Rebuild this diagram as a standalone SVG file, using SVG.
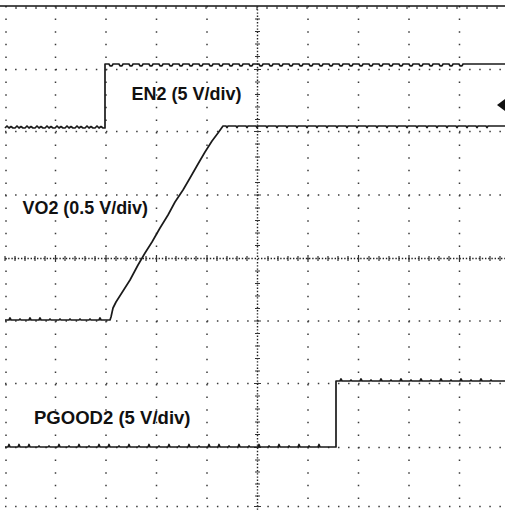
<svg xmlns="http://www.w3.org/2000/svg" width="505" height="510" viewBox="0 0 505 510">
<style>
.gh{stroke:#3a3a3a;stroke-width:1.5;stroke-dasharray:1.5 8.59;fill:none}
.gv{stroke:#3a3a3a;stroke-width:1.5;stroke-dasharray:1.5 11.1;fill:none}
.cl{stroke:#222;stroke-width:1.4;stroke-dasharray:1.4 1.8;fill:none}
.tk{stroke:#333;stroke-width:1.2;fill:none}
.tr{stroke:#1a1a1a;stroke-width:1.7;fill:none;stroke-linejoin:round}
.lb{font-family:"Liberation Sans",Arial,sans-serif;font-weight:bold;font-size:17.8px;fill:#111}
</style>
<rect width="505" height="510" fill="#fff"/>
<g id="grid">
<path class="gh" d="M5,69.5H505M5,131.5H505M5,195H505M5,321H505M5,383.5H505M5,447.5H505M5,506.5H505"/>
<path class="gv" d="M6,6V510M55.5,6V510M106,6V510M156.5,6V510M207,6V510M308,6V510M358.5,6V510M409,6V510M459.5,6V510"/>
<path class="cl" d="M257.5,6V510M5,258.5H505"/>
<path class="tk" d="M5,256V261M15,256V261M25,256V261M35,256V261M45,256V261M55.5,255V262M65,256V261M75,256V261M85,256V261M95,256V261M106,255V262M116,256V261M126,256V261M136,256V261M146,256V261M156.5,255V262M166,256V261M176,256V261M186,256V261M196,256V261M207,255V262M217,256V261M227,256V261M237,256V261M247,256V261M268,256V261M278,256V261M288,256V261M298,256V261M308,255V262M318,256V261M328,256V261M338,256V261M348,256V261M358.5,255V262M369,256V261M379,256V261M389,256V261M399,256V261M409,255V262M419,256V261M429,256V261M439,256V261M449,256V261M459.5,255V262M470,256V261M480,256V261M490,256V261M500,256V261"/>
<path class="tk" d="M255,19H260M255,31.5H260M255,44H260M255,56.5H260M254,69.5H261M255,82H260M255,94.5H260M255,107H260M255,119.5H260M254,131.5H261M255,144H260M255,157H260M255,170H260M255,182.5H260M254,195H261M255,208H260M255,220.5H260M255,233H260M255,245.5H260M255,271H260M255,283.5H260M255,296H260M255,308.5H260M254,321H261M255,333.5H260M255,346H260M255,358.5H260M255,371H260M254,383.5H261M255,396H260M255,409H260M255,422H260M255,434.5H260M254,447.5H261M255,460H260M255,472H260M255,484H260M255,496H260M254,506.5H261"/>
<path d="M0,6H505" stroke="#111" stroke-width="1.6"/>
<path class="tk" d="M16,6V9M26,6V9M36,6V9M46,6V9M56,6V9M66,6V9M76,6V9M86,6V9M96,6V9M106,6V9M116,6V9M126,6V9M136,6V9M146,6V9M156,6V9M166,6V9M176,6V9M186,6V9M196,6V9M206,6V9M216,6V9M226,6V9M236,6V9M246,6V9M257,6V10M267,6V9M277,6V9M287,6V9M297,6V9M307,6V9M317,6V9M327,6V9M337,6V9M347,6V9M357,6V9M367,6V9M377,6V9M387,6V9M397,6V9M407,6V9M417,6V9M427,6V9M437,6V9M447,6V9M457,6V9M467,6V9M477,6V9M487,6V9M497,6V9"/>
</g>
<g id="traces">
<path id="en2" class="tr" d="M5,128 l2,-2 l2,2 l2,-1.5 l2,1.5 l2,0 l2,-2 l2,2 l2,-1.5 l2,1.5 l2,0 l2,-2 l2,2 l2,-1.5 l2,1.5 l2,0 l2,-2 l2,2 l2,-1.5 l2,1.5 l2,0 l2,-2 l2,2 l2,-1.5 l2,1.5 l2,0 l2,-2 l2,2 l2,-1.5 l2,1.5 l2,0 l2,-2 l2,2 l2,-1.5 l2,1.5 l2,0 l2,-2 l2,2 l2,-1.5 l2,1.5 l2,0 l2,-2 l2,2 l2,-1.5 l2,1.5 l2,0 l2,-2 l2,2 l2,-1.5 l2,1.5 l2,0 L105,128 L105,64 l4,0 l1,1.8 l2,0 l1,-1.8 l2,0 l4,0 l1,1.8 l2,0 l1,-1.8 l2,0 l4,0 l1,1.8 l2,0 l1,-1.8 l2,0 l4,0 l1,1.8 l2,0 l1,-1.8 l2,0 l4,0 l1,1.8 l2,0 l1,-1.8 l2,0 l4,0 l1,1.8 l2,0 l1,-1.8 l2,0 l4,0 l1,1.8 l2,0 l1,-1.8 l2,0 l4,0 l1,1.8 l2,0 l1,-1.8 l2,0 l4,0 l1,1.8 l2,0 l1,-1.8 l2,0 l4,0 l1,1.8 l2,0 l1,-1.8 l2,0 l4,0 l1,1.8 l2,0 l1,-1.8 l2,0 l4,0 l1,1.8 l2,0 l1,-1.8 l2,0 l4,0 l1,1.8 l2,0 l1,-1.8 l2,0 l4,0 l1,1.8 l2,0 l1,-1.8 l2,0 l4,0 l1,1.8 l2,0 l1,-1.8 l2,0 l4,0 l1,1.8 l2,0 l1,-1.8 l2,0 l4,0 l1,1.8 l2,0 l1,-1.8 l2,0 l4,0 l1,1.8 l2,0 l1,-1.8 l2,0 l4,0 l1,1.8 l2,0 l1,-1.8 l2,0 l4,0 l1,1.8 l2,0 l1,-1.8 l2,0 l4,0 l1,1.8 l2,0 l1,-1.8 l2,0 l4,0 l1,1.8 l2,0 l1,-1.8 l2,0 l4,0 l1,1.8 l2,0 l1,-1.8 l2,0 l4,0 l1,1.8 l2,0 l1,-1.8 l2,0 l4,0 l1,1.8 l2,0 l1,-1.8 l2,0 l4,0 l1,1.8 l2,0 l1,-1.8 l2,0 l4,0 l1,1.8 l2,0 l1,-1.8 l2,0 l4,0 l1,1.8 l2,0 l1,-1.8 l2,0 l4,0 l1,1.8 l2,0 l1,-1.8 l2,0 l4,0 l1,1.8 l2,0 l1,-1.8 l2,0 l4,0 l1,1.8 l2,0 l1,-1.8 l2,0 l4,0 l1,1.8 l2,0 l1,-1.8 l2,0 l4,0 l1,1.8 l2,0 l1,-1.8 l2,0 l4,0 l1,1.8 l2,0 l1,-1.8 l2,0 l4,0 l1,1.8 l2,0 l1,-1.8 l2,0 l4,0 l1,1.8 l2,0 l1,-1.8 l2,0 L505,64"/>
<path id="vo2" class="tr" d="M5,320 l4,0 l1,-2 l1,2 l4,0 l4,0 l1,-1 l1,1 l4,0 l4,0 l1,-2 l1,2 l4,0 l4,0 l1,-2 l1,2 l4,0 l4,0 l1,-1 l1,1 l4,0 l4,0 l1,-1 l1,1 l4,0 l4,0 l1,-1 l1,1 l4,0 l4,0 l1,-1 l1,1 l4,0 l4,0 l1,-1 l1,1 l4,0 l4,0 l1,-2 l1,2 l4,0 L110,320 L111,317 L113,308 L116,302 L123,291 L130,280 L138,265 L145,253 L152,242 L160,228 L168,215 L175,202 L183,190 L190,178 L198,164 L205,152 L212,141 L218,133 L223,126 l3,0 l1,1.5 l1,-1.5 l5,0 l3,0 l1,1.5 l1,-1.5 l5,0 l3,0 l1,1.5 l1,-1.5 l5,0 l3,0 l1,1.5 l1,-1.5 l5,0 l3,0 l1,1.5 l1,-1.5 l5,0 l3,0 l1,1.5 l1,-1.5 l5,0 l3,0 l1,1.5 l1,-1.5 l5,0 l3,0 l1,1.5 l1,-1.5 l5,0 l3,0 l1,1.5 l1,-1.5 l5,0 l3,0 l1,1.5 l1,-1.5 l5,0 l3,0 l1,1.5 l1,-1.5 l5,0 l3,0 l1,1.5 l1,-1.5 l5,0 l3,0 l1,1.5 l1,-1.5 l5,0 l3,0 l1,1.5 l1,-1.5 l5,0 l3,0 l1,1.5 l1,-1.5 l5,0 l3,0 l1,1.5 l1,-1.5 l5,0 l3,0 l1,1.5 l1,-1.5 l5,0 l3,0 l1,1.5 l1,-1.5 l5,0 l3,0 l1,1.5 l1,-1.5 l5,0 l3,0 l1,1.5 l1,-1.5 l5,0 l3,0 l1,1.5 l1,-1.5 l5,0 l3,0 l1,1.5 l1,-1.5 l5,0 l3,0 l1,1.5 l1,-1.5 l5,0 l3,0 l1,1.5 l1,-1.5 l5,0 l3,0 l1,1.5 l1,-1.5 l5,0 l3,0 l1,1.5 l1,-1.5 l5,0 l3,0 l1,1.5 l1,-1.5 l5,0 L505,126"/>
<path id="pgood2" class="tr" d="M5,447 l3,0 l1,-2.5 l1,2.5 l5,0 l3,0 l1,-2.5 l1,2.5 l5,0 l3,0 l1,-2.5 l1,2.5 l5,0 l3,0 l1,-1 l1,1 l5,0 l3,0 l1,-1 l1,1 l5,0 l3,0 l1,-2.5 l1,2.5 l5,0 l3,0 l1,-1 l1,1 l5,0 l3,0 l1,-2.5 l1,2.5 l5,0 l3,0 l1,-1 l1,1 l5,0 l3,0 l1,-2.5 l1,2.5 l5,0 l3,0 l1,-2.5 l1,2.5 l5,0 l3,0 l1,-1 l1,1 l5,0 l3,0 l1,-2.5 l1,2.5 l5,0 l3,0 l1,-1 l1,1 l5,0 l3,0 l1,-2.5 l1,2.5 l5,0 l3,0 l1,-1 l1,1 l5,0 l3,0 l1,-2.5 l1,2.5 l5,0 l3,0 l1,-1 l1,1 l5,0 l3,0 l1,-2.5 l1,2.5 l5,0 l3,0 l1,-1 l1,1 l5,0 l3,0 l1,-2.5 l1,2.5 l5,0 l3,0 l1,-2.5 l1,2.5 l5,0 l3,0 l1,-1 l1,1 l5,0 l3,0 l1,-2.5 l1,2.5 l5,0 l3,0 l1,-1 l1,1 l5,0 l3,0 l1,-2.5 l1,2.5 l5,0 l3,0 l1,-1 l1,1 l5,0 l3,0 l1,-2.5 l1,2.5 l5,0 l3,0 l1,-1 l1,1 l5,0 l3,0 l1,-2.5 l1,2.5 l5,0 l3,0 l1,-1 l1,1 l5,0 l3,0 l1,-2.5 l1,2.5 l5,0 L336,447 L336,381 l4,0 l1,-2 l1,2 l4,0 l4,0 l1,-1 l1,1 l4,0 l4,0 l1,-2 l1,2 l4,0 l4,0 l1,-1 l1,1 l4,0 l4,0 l1,-2 l1,2 l4,0 l4,0 l1,-1 l1,1 l4,0 l4,0 l1,-2 l1,2 l4,0 l4,0 l1,-1 l1,1 l4,0 l4,0 l1,-2 l1,2 l4,0 l4,0 l1,-1 l1,1 l4,0 l4,0 l1,-2 l1,2 l4,0 l4,0 l1,-1 l1,1 l4,0 l4,0 l1,-2 l1,2 l4,0 l4,0 l1,-1 l1,1 l4,0 l4,0 l1,-2 l1,2 l4,0 l4,0 l1,-1 l1,1 l4,0 L505,381"/>
</g>
<g id="marker"><polygon points="497,105 505,99 505,111" fill="#111"/></g>
<g id="labels">
<text id="label-en2" class="lb" x="131.5" y="100" textLength="110" lengthAdjust="spacingAndGlyphs">EN2 (5 V/div)</text>
<text id="label-vo2" class="lb" x="22.5" y="213.5" textLength="125.5" lengthAdjust="spacingAndGlyphs">VO2 (0.5 V/div)</text>
<text id="label-pgood2" class="lb" x="34" y="423.5" textLength="156.5" lengthAdjust="spacingAndGlyphs">PGOOD2 (5 V/div)</text>
</g>
</svg>
